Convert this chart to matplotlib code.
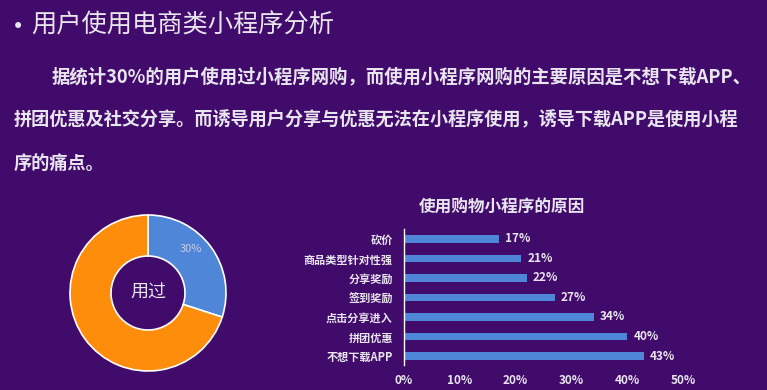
import numpy as np
import matplotlib.pyplot as plt

plt.rcParams['font.family'] = ['Noto Sans CJK SC', 'DejaVu Sans']

# donut data
donut_labels = ["用过", "未用过"]
donut_values = [30, 70]

# bar data (bottom to top)
reasons = ["不想下载APP", "拼团优惠", "点击分享进入", "签到奖励", "分享奖励", "商品类型针对性强", "砍价"]
reason_pct = [43, 40, 34, 27, 22, 21, 17]
x_ticks = [0, 10, 20, 30, 40, 50]

title = "用户使用电商类小程序分析"
body_lines = [
    "据统计30%的用户使用过小程序网购，而使用小程序网购的主要原因是不想下载APP、",
    "拼团优惠及社交分享。而诱导用户分享与优惠无法在小程序使用，诱导下载APP是使用小程",
    "序的痛点。",
]
bar_title = "使用购物小程序的原因"

bg = "#410b6c"
txt = "#e9e5ee"
blue = "#4f86d8"
orange = "#ff8d0c"

W, H = 767, 390
fig = plt.figure(figsize=(W / 100, H / 100), dpi=100)
fig.patch.set_facecolor(bg)

def fx(px):
    return px / W

def fy(py):
    return 1 - py / H

# header text
fig.text(fx(12), fy(27), "•", fontsize=15, color=txt, va='center', ha='left', family='DejaVu Sans')
fig.text(fx(31), fy(25), title, fontsize=18.2, color=txt, va='center', ha='left')
fig.text(fx(52), fy(77), body_lines[0], fontsize=13.2, color=txt, va='center', ha='left', fontweight='bold')
fig.text(fx(14), fy(120), body_lines[1], fontsize=13.1, color=txt, va='center', ha='left', fontweight='bold')
fig.text(fx(14), fy(163), body_lines[2], fontsize=13.1, color=txt, va='center', ha='left', fontweight='bold')

# donut
r_px = 78
box = 84
dax = fig.add_axes([fx(148 - box), fy(293 + box), 2 * box / W, 2 * box / H])
dax.set_facecolor('none')
wedges, _ = dax.pie(donut_values, colors=[blue, orange], startangle=90, counterclock=False,
                    radius=1, wedgeprops=dict(width=(78 - 37) / 78, edgecolor='white', linewidth=1.2))
lim = box / r_px
dax.set_xlim(-lim, lim)
dax.set_ylim(-lim, lim)
dax.set_aspect('auto')
dax.axis('off')
ang = np.deg2rad(90 - 0.5 * donut_values[0] / sum(donut_values) * 360)
rr = 0.73
dax.text(rr * np.cos(ang) - 0.04, rr * np.sin(ang) + 0.14, "%d%%" % donut_values[0], color="#c9cde6",
         fontsize=8, ha='center', va='center')
dax.text(0, 0, donut_labels[0], color=txt, fontsize=13, ha='center', va='center')

# bar chart
bax = fig.add_axes([fx(404), fy(365), (683 - 404) / W, (365 - 229) / H])
bax.set_facecolor('none')
y = np.arange(len(reasons))
bax.barh(y, reason_pct, height=0.38, color=blue)
bax.set_xlim(0, 50)
bax.set_ylim(-0.46, 6.51)
bax.set_yticks(y)
bax.set_yticklabels(reasons, fontsize=8, color=txt, fontweight='bold')
bax.set_xticks(x_ticks)
bax.set_xticklabels(["%d%%" % t for t in x_ticks], fontsize=8.5, color=txt, fontweight='bold')
bax.tick_params(axis='y', length=0, pad=8)
bax.tick_params(axis='x', length=0, pad=6.5)
for s in ['top', 'right', 'bottom']:
    bax.spines[s].set_visible(False)
bax.spines['left'].set_color('white')
bax.spines['left'].set_linewidth(1.0)
for yi, v in zip(y, reason_pct):
    bax.text(v + 1.1, yi, "%d%%" % v, color=txt, fontsize=8.5, fontweight='bold', va='center', ha='left')

fig.text(fx(502), fy(208), bar_title, fontsize=12, color=txt, fontweight='bold', ha='center', va='center')

fig.savefig("out.png", dpi=100, facecolor=bg)
